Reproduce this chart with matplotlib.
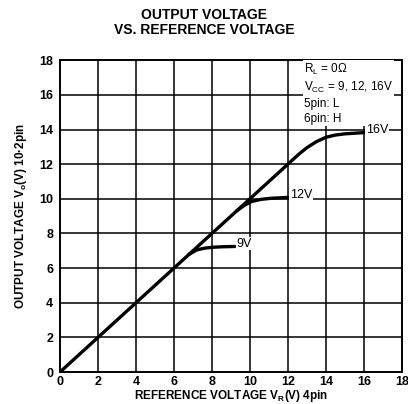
import matplotlib
matplotlib.use("Agg")
import matplotlib.pyplot as plt
import numpy as np

plt.rcParams['font.family'] = ['Liberation Sans', 'DejaVu Sans']

# data
vr_common = [0, 2, 4, 6, 6.8]
vo_common = [0, 2, 4, 6, 6.8]

vr_9 = [6.8, 7.2, 7.6, 8.0, 8.5, 9.2]
vo_9 = [6.8, 7.05, 7.15, 7.2, 7.23, 7.25]

vr_12 = [6.8, 8, 9.3, 9.7, 10.1, 10.6, 11.1, 12.0]
vo_12 = [6.8, 8, 9.3, 9.62, 9.85, 9.97, 10.03, 10.08]

vr_16 = [9.3, 12, 12.6, 13.0, 13.5, 14.0, 14.5, 15.0, 16.0]
vo_16 = [9.3, 12, 12.6, 12.95, 13.3, 13.55, 13.68, 13.75, 13.82]

ticks = [0, 2, 4, 6, 8, 10, 12, 14, 16, 18]
curve_labels = ["9V", "12V", "16V"]

fig = plt.figure(figsize=(4.08, 4.04), dpi=100)
ax = fig.add_axes([0.147, 0.079, 0.838, 0.772])

for t in ticks[1:-1]:
    ax.axvline(t, color="black", lw=1.1, zorder=1)
    ax.axhline(t, color="black", lw=1.1, zorder=1)

ax.plot(vr_common, vo_common, color="black", lw=2.4, solid_capstyle="round", zorder=3)
ax.plot(vr_9, vo_9, color="black", lw=2.4, solid_capstyle="round", zorder=3)
ax.plot(vr_12, vo_12, color="black", lw=2.4, solid_capstyle="round", zorder=3)
ax.plot(vr_16, vo_16, color="black", lw=2.4, solid_capstyle="round", zorder=3)

ends = [(vr_9[-1], vo_9[-1]), (vr_12[-1], vo_12[-1]), (vr_16[-1], vo_16[-1])]
for lab, (x, y) in zip(curve_labels, ends):
    ax.text(x + 0.1, y + 0.15, lab, fontsize=9, va="center", ha="left",
            bbox=dict(facecolor="white", edgecolor="none", pad=0.3), zorder=5)

ax.text(12.85, 17.9,
        "R$_\\mathregular{L}$ = 0Ω\nV$_\\mathregular{CC}$ = 9, 12, 16V\n5pin: L\n6pin: H",
        fontsize=8.5, va="top", ha="left", linespacing=1.3,
        bbox=dict(facecolor="white", edgecolor="none", pad=0.5), zorder=4)

ax.set_xlim(0, 18)
ax.set_ylim(0, 18)
ax.set_xticks(ticks)
ax.set_yticks(ticks)
ax.tick_params(axis="x", length=0, labelsize=9, pad=3)
ax.tick_params(axis="y", length=0, labelsize=9, pad=5)
for lbl in ax.get_xticklabels() + ax.get_yticklabels():
    lbl.set_fontweight("bold")
for s in ax.spines.values():
    s.set_linewidth(1.4)

ax.set_xlabel("REFERENCE VOLTAGE V$_\\mathregular{R}$(V) 4pin", fontsize=8.5,
              fontweight="bold", labelpad=0)
ax.set_ylabel("OUTPUT VOLTAGE V$_\\mathregular{o}$(V) 10·2pin", fontsize=8.5,
              fontweight="bold", labelpad=7)
fig.text(0.5, 0.945, "OUTPUT VOLTAGE\nVS. REFERENCE VOLTAGE", ha="center", va="center",
         fontsize=10, fontweight="bold", linespacing=1.1)

fig.savefig("out.png", dpi=100)
